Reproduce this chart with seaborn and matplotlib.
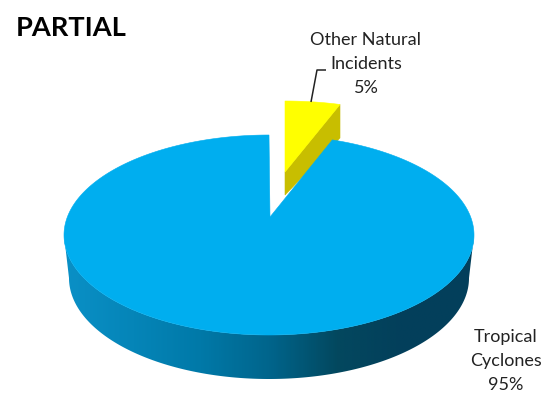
import numpy as np
import matplotlib.pyplot as plt
import seaborn as sns
from matplotlib.patches import Polygon

sns.set_theme(style="white")
plt.rcParams['font.family'] = ['Lato', 'DejaVu Sans']

# chart data
categories = ['Other Natural\nIncidents', 'Tropical\nCyclones']
shares = [5, 95]
chart_title = 'PARTIAL'

# colours
yellow_top = '#FFFF00'
yellow_side = '#C8BE00'
blue_top = '#00AEEF'
blue_side = sns.blend_palette(['#0A90C6', '#0585B8', '#0079A8', '#00658C', '#03485F', '#033F5B', '#03405C'], 300)

# angles measured clockwise from 12 o'clock, first slice starts there
sweep = np.array(shares) / sum(shares) * 360
split = np.radians(sweep[0])


def rim(theta, cx, cy, rx, ry):
    return np.column_stack([cx + rx * np.sin(theta), cy - ry * np.cos(theta)])


fig = plt.figure(figsize=(5.43, 3.94), dpi=100)
ax = fig.add_axes([0, 0, 1, 1])

# blue side wall, shading runs left to right and is clipped to the wall outline
front = np.linspace(np.pi * 1.5, np.pi * 0.5, 301)
upper = rim(front, 269, 235, 205, 100)
lower = rim(front, 269, 278, 200, 101)
wall = Polygon(np.vstack([upper, lower[::-1]]), closed=True, fc='none', ec='none',
               transform=ax.transData)
ax.add_patch(wall)
shade = np.array(blue_side)[np.newaxis, :, :]
img = ax.imshow(shade, extent=[64, 474, 380, 235], aspect='auto', interpolation='bilinear')
img.set_clip_path(wall)

ax.set_xlim(0, 543)
ax.set_ylim(394, 0)
ax.axis('off')

# yellow slice, pulled out from the pie
y_apex = np.array([285, 172])
y_arc = rim(np.linspace(0, split, 30), 285, 172, 178, 71)
y_depth = np.array([[340, 138], [285, 195]])
ax.add_patch(Polygon([y_apex, y_arc[-1], y_depth[0], y_depth[1]], closed=True,
                     fc=yellow_side, ec=yellow_side, lw=0.4))
ax.add_patch(Polygon(np.vstack([y_apex, y_arc]), closed=True,
                     fc=yellow_top, ec=yellow_top, lw=0.4))

# blue top face
b_arc = rim(np.linspace(split, 2 * np.pi, 400), 269, 235, 205, 100)
ax.add_patch(Polygon(np.vstack([[270, 217], b_arc]), closed=True,
                     fc=blue_top, ec=blue_top, lw=0.4))

# leader line for the small slice
ax.plot([326, 317, 311], [70, 70, 102], color='#222222', lw=1.1, solid_capstyle='butt')

# labels
ax.text(366, 64, f'{categories[0]}\n{shares[0]}%', ha='center', va='center',
        fontsize=13, color='#222222', linespacing=1.63)
ax.text(506, 361, f'{categories[1]}\n{shares[1]}%', ha='center', va='center',
        fontsize=13, color='#222222', linespacing=1.63)
ax.text(16, 28, chart_title, ha='left', va='center', fontsize=19.6,
        fontweight='bold', color='black')

fig.savefig('out.png', dpi=100)
plt.close(fig)
